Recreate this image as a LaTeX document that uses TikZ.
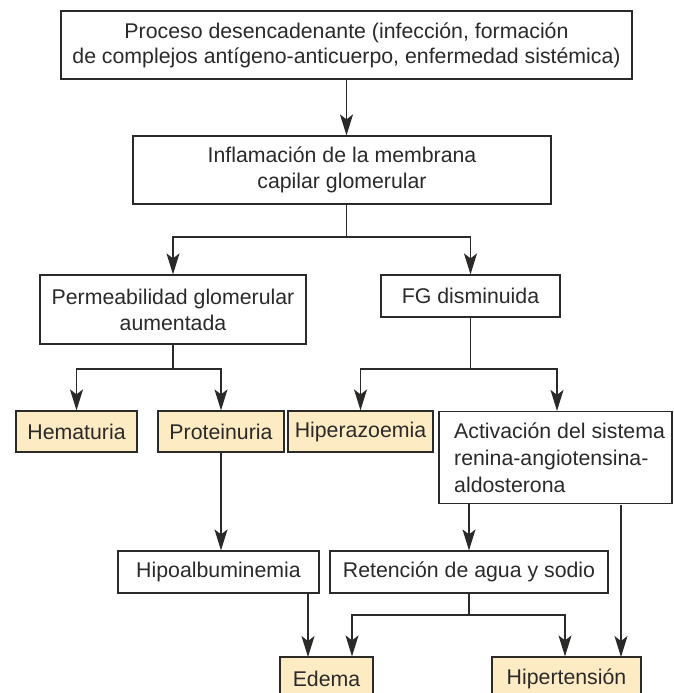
\documentclass[tikz,border=0pt]{standalone}
\usepackage{fontspec}
\setmainfont{Liberation Sans}
\usetikzlibrary{arrows.meta}
\definecolor{ink}{HTML}{2B2A29}
\definecolor{tan}{HTML}{FDEBC4}
\begin{document}
\begin{tikzpicture}[x=1pt,y=-1pt,
  box/.style={draw=ink, line width=1.2pt, rectangle, inner sep=0pt, align=center,
    text=ink, font=\fontsize{21.3}{26}\selectfont},
  hl/.style={box, fill=tan},
  lbl/.style={inner sep=0pt, align=left, text=ink, font=\fontsize{21.3}{27}\selectfont},
  conn/.style={draw=ink, line width=1.2pt},
  arr/.style={conn, -{Stealth[length=21pt,width=13pt,inset=5pt]}}]
\clip (0,0) rectangle (674,693);
\fill[white] (0,0) rectangle (674,693);
\node[box, minimum width=571pt, minimum height=68pt, font=\fontsize{21.3}{25}\selectfont] (top) at (346.5,45)
  {Proceso desencadenante (infección, formación\\de complejos antígeno-anticuerpo, enfermedad sistémica)};
\node[box, minimum width=418pt, minimum height=68pt] (infl) at (342,170)
  {Inflamación de la membrana\\capilar glomerular};
\node[box, minimum width=266pt, minimum height=69pt] (perm) at (173,309.5)
  {Permeabilidad glomerular\\aumentada};
\node[box, minimum width=179pt, minimum height=42pt] (fg) at (470.5,296)
  {FG disminuida};
\node[hl, minimum width=121pt, minimum height=41pt] (hema) at (76.5,431.5) {Hematuria};
\node[hl, minimum width=126pt, minimum height=41pt] (prot) at (221,431.5) {Proteinuria};
\node[hl, minimum width=145pt, minimum height=41pt] (hiper) at (360.5,431.5) {Hiperazoemia};
\node[box, minimum width=233pt, minimum height=92pt] (activ) at (555.5,457.5) {};
\node[lbl, anchor=west] (activt) at (454,458)
  {Activación del sistema\\renina-angiotensina-\\aldosterona};
\node[box, minimum width=201pt, minimum height=42pt] (hipo) at (218.5,572) {Hipoalbuminemia};
\node[box, minimum width=278pt, minimum height=42pt] (ret) at (469,572) {Retención de agua y sodio};
\node[hl, minimum width=93pt, minimum height=43pt] (edema) at (326.5,678.5) {Edema};
\node[hl, minimum width=149pt, minimum height=43pt] (hiperten) at (566.5,678.5) {Hipertensión};
% junctions
\coordinate (j1) at (346.5,237);
\coordinate (j2) at (173,369);
\coordinate (j3) at (470.5,369);
\coordinate (j4) at (469,615);
\coordinate (aA) at (621,505);
\coordinate (aB) at (621,657);
\coordinate (hA) at (308,593);
\coordinate (hB) at (308,657);
% connectors
\draw[arr] (top.south) -- (top.south |- infl.north);
\draw[conn] (infl.south -| j1) -- (j1);
\draw[arr] (j1) -| (perm.north);
\draw[arr] (j1) -| (fg.north);
\draw[conn] (perm.south) -- (j2);
\draw[arr] (j2) -| (hema.north);
\draw[arr] (j2) -| (prot.north);
\draw[conn] (fg.south) -- (j3);
\draw[arr] (j3) -| (hiper.north);
\draw[arr] (j3) -| ([xshift=1.5pt]activ.north);
\draw[arr] (prot.south) -- (prot.south |- hipo.north);
\draw[arr] (ret.north |- activ.south) -- (ret.north);
\draw[arr] (aA) -- (aB);
\draw[arr] (hA) -- (hB);
\draw[conn] (ret.south) -- (j4);
\draw[arr] (j4) -| ([xshift=25.5pt]edema.north);
\draw[arr] (j4) -| ([xshift=-1.5pt]hiperten.north);
\end{tikzpicture}
\end{document}
